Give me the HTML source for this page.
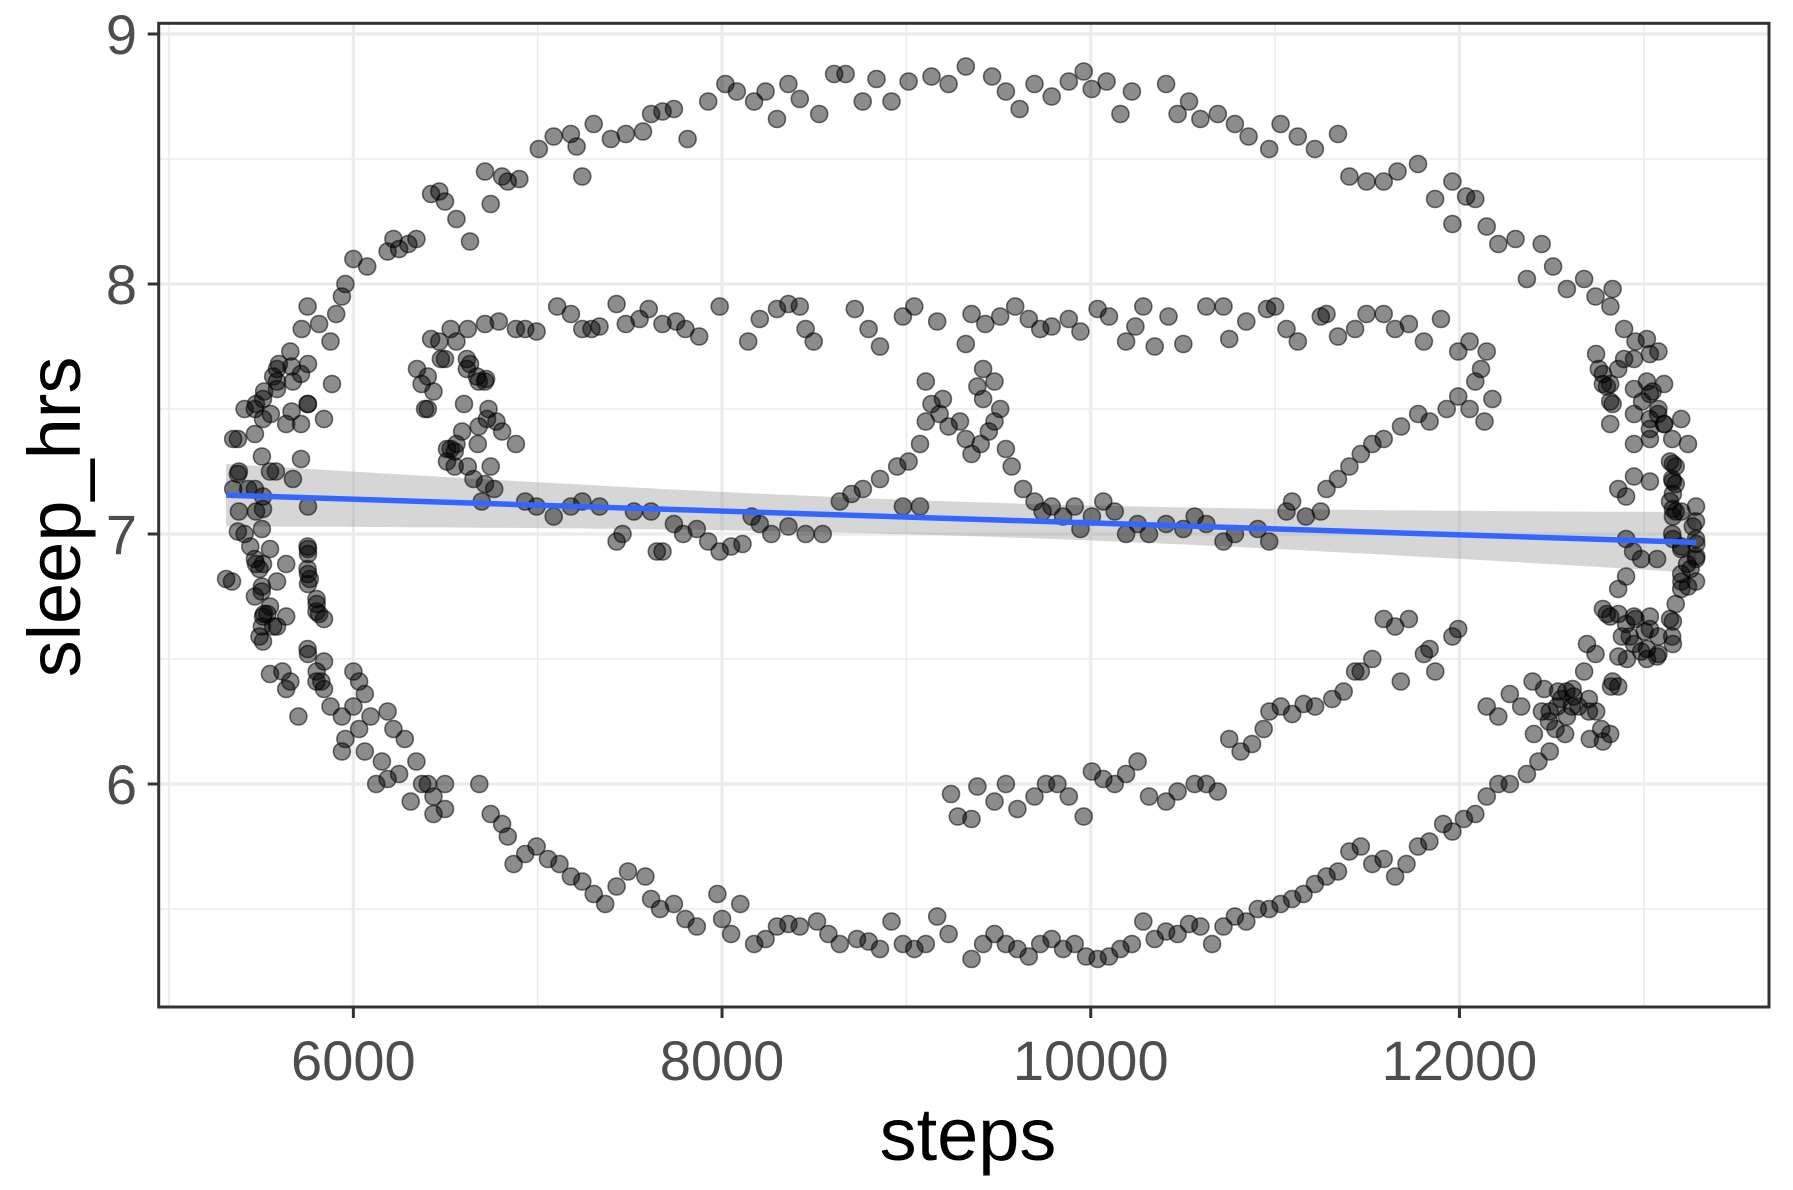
<!DOCTYPE html>
<html><head><meta charset="utf-8"><style>
html,body{margin:0;padding:0;background:#fff;}
svg{display:block;font-family:"Liberation Sans",Arial,sans-serif;}
</style></head><body>
<svg id="chart" width="1793" height="1190" viewBox="0 0 1793 1190" xmlns="http://www.w3.org/2000/svg">
<rect x="0" y="0" width="1793" height="1190" fill="#fff"/>
<g id="grid"></g>
<g id="band"></g>
<g id="points"></g>
<g id="fit"></g>
<rect x="158.7" y="23.3" width="1610.3" height="983.7" fill="none" stroke="#333" stroke-width="3"/>
<g id="axes"></g>
<text x="968" y="1160" font-size="74" text-anchor="middle" fill="#000">steps</text>
<text x="0" y="0" font-size="74" text-anchor="middle" fill="#000" transform="translate(80,517) rotate(-90)">sleep_hrs</text>
</svg>
<script>
const xTicks = [6000, 8000, 10000, 12000];
const xMinor = [5000, 7000, 9000, 11000, 13000];
const yTicks = [6, 7, 8, 9];
const yMinor = [5.5, 6.5, 7.5, 8.5];
const steps = [5957,6000,6075,6217,6248,6186,6298,6342,6422,6497,6466,6559,6633,6714,6745,6807,6838,6900,7006,7087,7180,7211,7242,7304,7397,7478,7571,7615,7677,7739,7813,7925,8018,8080,8174,8236,8298,8360,8422,8527,8608,8670,8763,8838,8919,9012,9136,9229,9322,9465,9540,9614,9695,9788,9881,9962,10005,10086,10161,10223,10409,10471,10533,10595,10689,10782,10856,10968,11030,11123,11216,11341,11403,11496,11589,11664,11775,11868,11962,12036,12086,11962,12148,12211,12304,12366,12446,12508,12583,12676,12738,12831,12819,12893,12955,13017,13079,12756,12800,12831,12893,13017,13048,13079,13110,13154,13173,13173,13142,13204,13266,13285,13285,13254,13204,13173,13142,13079,13017,12955,12881,12862,12831,12769,12707,12645,12583,12521,12490,12428,12366,12273,12211,12148,12086,12024,11962,11912,11837,11775,11713,11651,11589,11527,11465,11403,11341,11279,11216,11154,11092,11030,10968,10906,10844,10782,10720,10658,10595,10533,10471,10409,10347,10285,10223,10161,10099,10037,9975,9913,9850,9788,9726,9664,9602,9540,9478,9416,9353,9229,9167,9105,9043,8981,8919,8857,8795,8732,8639,8577,8515,8422,8360,8298,8236,8174,8099,8049,7975,8000,7863,7801,7739,7664,7615,7584,7490,7428,7366,7304,7242,7180,7118,7056,6994,6932,6869,6838,6807,6745,6683,6497,6435,6373,6311,6248,6186,6155,6124,6062,6031,6000,5957,5938,5876,5826,5801,5752,5702,5658,5615,5565,5534,5503,5472,5441,5410,5379,5348,5379,5348,5410,5472,5516,5565,5596,5658,5720,5752,5814,5876,5907,5938,5491,5516,5491,5752,5752,5764,5801,5814,5665,5752,5665,5429,5472,5310,13142,13154,13173,13154,13204,13235,
6422,6466,6528,6559,6621,6714,6789,6882,6932,6994,7106,7180,7242,7292,7335,7428,7478,7553,7602,7677,7751,7801,7876,7987,8142,8205,8298,8360,8422,8453,8497,8720,8795,8857,8981,9043,9167,9322,9353,9428,9509,9590,9664,9726,9788,9881,9944,10037,10099,10192,10242,10285,10347,10422,10502,10627,10720,10751,10844,10956,11000,11062,11123,11248,11279,11341,11434,11496,11589,11651,11726,11807,11900,
6404,6435,6404,6497,6528,6559,6590,6633,6671,6714,6733,6776,6807,6882,6652,6714,6764,6621,6696,6745,
6932,6994,7087,7180,7242,7335,7428,7460,7522,7615,7646,7677,7739,7789,7863,7925,7987,8049,8111,8161,8205,8267,8360,8453,8546,8639,8702,8764,8857,8950,9012,9074,9105,9136,9180,9229,9291,9322,9353,9403,9447,9478,9416,9385,9416,9478,9509,9540,9571,9633,9695,9739,9788,9850,9913,9944,10006,10068,10130,10192,10254,10316,10409,10502,10564,10627,10720,10782,10906,10968,11062,11092,11167,11248,11279,11341,11403,11465,11527,11589,11683,11776,11838,11931,11993,12055,12086,12179,12117,12148,12055,11993,12136,9105,9198,8981,9074,
9242,9279,9353,9385,9478,9540,9602,9695,9757,9819,9881,9962,10006,10068,10130,10192,10254,10316,10409,10471,10564,10627,10689,10751,10813,10875,10938,10969,11031,11093,11155,11217,11310,11372,11434,11465,11527,11589,11651,11726,11807,11838,11869,11962,11993,11682,
12148,12211,12273,12335,12397,12459,12490,12552,12614,12676,12738,12800,12862,12924,13005,13017,13079,13154,
5938,6000,6031,6062,6093,6186,6217,6279,6342,6404,6497,6435,
5374,5374,5374,5342,5466,5504,5466,5510,5510,5504,5548,5580,5672,5716,5754,5548,5466,5510,5636,5504,5466,5586,5548,5510,5636,5504,5586,5510,5754,5754,5754,5754,5800,5800,5841,5754,5841,5548,5636,5800,5841,
5586,5586,5586,5672,5716,5754,5466,5510,5552,5510,5636,5716,5754,5841,5884,
6345,6370,6475,6389,6600,6616,6616,6680,6720,6725,6680,6675,6508,6550,6508,6550,
12741,12947,13033,12778,12861,12778,12818,12947,13033,13110,12991,12818,12947,13033,13077,13110,13203,13033,12818,12947,13033,13240,13158,12947,13033,12861,12904,13158,13158,13158,13158,13283,13283,13283,13158,13203,12904,12942,12986,13072,13283,13203,13283,13240,13203,12904,12861,12778,12818,12947,13033,12904,13033,13158,12692,12947,12986,12909,13072,13158,12822,12861,12535,12580,12620,12702,12447,12530,12610,12702,12742,12485,12404,12573,12778,12818];
const sleepHrs = [8.00,8.10,8.07,8.18,8.14,8.13,8.16,8.18,8.36,8.33,8.37,8.26,8.17,8.45,8.32,8.43,8.41,8.42,8.54,8.59,8.60,8.55,8.43,8.64,8.58,8.60,8.61,8.68,8.69,8.70,8.58,8.73,8.80,8.77,8.73,8.77,8.66,8.80,8.74,8.68,8.84,8.84,8.73,8.82,8.73,8.81,8.83,8.80,8.87,8.83,8.77,8.70,8.80,8.75,8.81,8.85,8.78,8.81,8.68,8.77,8.80,8.68,8.73,8.66,8.68,8.64,8.59,8.54,8.64,8.59,8.54,8.60,8.43,8.41,8.41,8.45,8.48,8.34,8.41,8.35,8.34,8.24,8.23,8.16,8.18,8.02,8.16,8.07,7.98,8.02,7.95,7.98,7.91,7.82,7.77,7.78,7.73,7.66,7.59,7.52,7.70,7.61,7.57,7.50,7.44,7.38,7.27,7.20,7.13,7.09,7.03,6.96,6.91,6.86,6.81,6.72,6.66,6.59,6.54,6.66,6.59,6.51,6.41,6.22,6.18,6.31,6.27,6.22,6.13,6.09,6.04,6.00,6.00,5.95,5.88,5.86,5.81,5.84,5.77,5.75,5.68,5.63,5.70,5.68,5.75,5.73,5.65,5.63,5.60,5.56,5.54,5.52,5.50,5.50,5.45,5.47,5.43,5.36,5.43,5.44,5.40,5.41,5.38,5.45,5.36,5.34,5.31,5.30,5.31,5.36,5.34,5.38,5.36,5.31,5.34,5.36,5.40,5.36,5.30,5.40,5.47,5.36,5.34,5.36,5.45,5.34,5.37,5.38,5.36,5.40,5.45,5.43,5.44,5.43,5.38,5.36,5.52,5.40,5.56,5.46,5.43,5.46,5.52,5.50,5.54,5.63,5.65,5.59,5.52,5.56,5.61,5.63,5.68,5.70,5.75,5.72,5.68,5.79,5.84,5.88,6.00,6.00,5.95,6.00,5.93,6.04,6.02,6.09,6.00,6.13,6.22,6.31,6.18,6.13,6.31,6.41,6.45,6.54,6.27,6.41,6.45,6.63,6.68,6.77,6.88,6.95,7.00,7.09,7.18,7.25,7.38,7.50,7.52,7.57,7.63,7.68,7.73,7.82,7.91,7.84,7.77,7.88,7.95,6.86,6.68,6.59,6.95,6.86,6.82,6.72,6.68,7.49,7.52,7.67,7.18,7.09,6.82,7.29,7.22,7.09,7.00,6.95,6.88,
7.78,7.77,7.82,7.77,7.82,7.84,7.85,7.82,7.82,7.81,7.91,7.88,7.82,7.82,7.83,7.92,7.84,7.86,7.90,7.84,7.85,7.82,7.79,7.91,7.77,7.86,7.90,7.92,7.91,7.82,7.77,7.90,7.82,7.75,7.87,7.91,7.85,7.76,7.88,7.84,7.87,7.91,7.86,7.82,7.83,7.86,7.81,7.90,7.87,7.77,7.83,7.91,7.75,7.87,7.76,7.91,7.91,7.78,7.85,7.90,7.91,7.82,7.77,7.87,7.88,7.79,7.82,7.88,7.88,7.82,7.84,7.77,7.86,
7.63,7.57,7.50,7.70,7.34,7.36,7.41,7.68,7.63,7.61,7.50,7.45,7.41,7.36,7.22,7.20,7.18,7.27,7.13,7.27,
7.13,7.11,7.07,7.11,7.13,7.11,6.97,7.00,7.09,7.09,6.93,6.93,7.04,7.00,7.02,6.97,6.93,6.95,6.96,7.07,7.04,7.00,7.03,7.00,7.00,7.13,7.16,7.18,7.22,7.27,7.29,7.36,7.45,7.52,7.48,7.43,7.45,7.38,7.32,7.36,7.41,7.45,7.54,7.59,7.66,7.61,7.50,7.34,7.27,7.18,7.13,7.09,7.11,7.07,7.11,7.02,7.07,7.13,7.09,7.00,7.04,7.00,7.04,7.02,7.07,7.04,6.97,7.00,7.02,6.97,7.09,7.13,7.07,7.09,7.18,7.22,7.27,7.32,7.36,7.38,7.43,7.48,7.45,7.50,7.55,7.50,7.61,7.54,7.66,7.73,7.77,7.73,7.45,7.61,7.54,7.11,7.11,
5.96,5.87,5.86,5.99,5.93,6.00,5.90,5.95,6.00,6.00,5.95,5.87,6.05,6.02,6.00,6.04,6.09,5.95,5.93,5.97,6.00,6.00,5.97,6.18,6.13,6.16,6.22,6.29,6.31,6.28,6.32,6.31,6.34,6.37,6.45,6.45,6.50,6.66,6.63,6.66,6.52,6.54,6.45,6.59,6.62,6.41,
6.31,6.27,6.36,6.31,6.41,6.38,6.29,6.34,6.38,6.45,6.52,6.68,6.68,6.59,6.61,6.50,6.52,6.59,
6.27,6.45,6.41,6.36,6.27,6.29,6.22,6.18,6.09,6.00,5.90,5.88,
7.38,7.24,7.01,6.81,7.40,7.31,7.18,7.15,7.10,7.02,7.25,7.25,7.22,7.30,7.11,6.94,6.90,6.88,6.88,6.79,6.75,6.81,6.71,6.67,6.67,6.63,6.63,6.57,6.94,6.92,6.84,6.80,6.74,6.69,6.66,6.52,6.49,6.44,6.38,6.41,6.38,
7.66,7.61,7.58,7.61,7.64,7.68,7.50,7.54,7.48,7.46,7.44,7.44,7.52,7.46,7.60,
7.66,7.60,7.70,7.50,7.52,7.70,7.66,7.61,7.62,7.46,7.43,7.36,7.34,7.33,7.29,7.27,
7.72,7.70,7.72,7.64,7.66,7.60,7.60,7.58,7.56,7.60,7.53,7.53,7.48,7.46,7.48,7.44,7.46,7.42,7.44,7.36,7.38,7.36,7.28,7.23,7.21,7.18,7.15,7.21,7.16,7.10,7.07,7.11,7.05,6.98,6.98,6.94,6.98,6.93,6.90,6.90,6.90,6.84,6.81,6.79,6.78,6.83,6.78,6.70,6.67,6.67,6.67,6.64,6.62,6.65,6.56,6.56,6.53,6.50,6.51,6.56,6.39,6.39,6.37,6.37,6.35,6.34,6.29,6.31,6.31,6.29,6.29,6.25,6.20,6.20,6.17,6.20];

const NS = 'http://www.w3.org/2000/svg';
const PL = 158.7, PR = 1769, PT = 23.3, PB = 1007;
function xs(v){ return 169 + (v - 5000) * 0.18435; }
function ys(v){ return 34 + (9 - v) * 250; }
function mk(tag, attrs, parent){
  const e = document.createElementNS(NS, tag);
  for (const k in attrs) e.setAttribute(k, attrs[k]);
  parent.appendChild(e);
  return e;
}
const grid = document.getElementById('grid');
xMinor.forEach(v => {
  const l = mk('line', {x1: xs(v), x2: xs(v), y1: PT, y2: PB, stroke: '#ebebeb', 'stroke-width': 1.6}, grid);
  
  
});
yMinor.forEach(v => {
  const l = mk('line', {x1: PL, x2: PR, y1: ys(v), y2: ys(v), stroke: '#ebebeb', 'stroke-width': 1.6}, grid);
  
  
});
xTicks.forEach(v => {
  const l = mk('line', {x1: xs(v), x2: xs(v), y1: PT, y2: PB, stroke: '#ebebeb', 'stroke-width': 3.2}, grid);
  
  
});
yTicks.forEach(v => {
  const l = mk('line', {x1: PL, x2: PR, y1: ys(v), y2: ys(v), stroke: '#ebebeb', 'stroke-width': 3.2}, grid);
  
  
});

const n = steps.length;
let mx = 0, my = 0;
for (let i = 0; i < n; i++){ mx += steps[i]; my += sleepHrs[i]; }
mx /= n; my /= n;
let sxx = 0, sxy = 0;
for (let i = 0; i < n; i++){ sxx += (steps[i]-mx)**2; sxy += (steps[i]-mx)*(sleepHrs[i]-my); }
const slope = sxy / sxx, icpt = my - slope * mx;
let sse = 0;
for (let i = 0; i < n; i++){ sse += (sleepHrs[i] - icpt - slope*steps[i])**2; }
const s = Math.sqrt(sse / (n - 2));
let xmin = Math.min(...steps), xmax = Math.max(...steps);
const up = [], lo = [];
for (let k = 0; k <= 80; k++){
  const xv = xmin + (xmax - xmin) * k / 80;
  const yv = icpt + slope * xv;
  const se = 1.96 * s * Math.sqrt(1/n + (xv-mx)**2/sxx);
  up.push(xs(xv).toFixed(1) + ',' + ys(yv+se).toFixed(1));
  lo.unshift(xs(xv).toFixed(1) + ',' + ys(yv-se).toFixed(1));
}
const bandPoly = mk('polygon', {points: up.concat(lo).join(' '), fill: '#999', 'fill-opacity': 0.4}, document.getElementById('band'));



const pts = document.getElementById('points');
for (let i = 0; i < n; i++){
  const c = mk('circle', {cx: xs(steps[i]).toFixed(1), cy: ys(sleepHrs[i]).toFixed(1), r: 8.5, fill: 'rgba(0,0,0,0.45)', stroke: 'rgba(0,0,0,0.55)', 'stroke-width': 1.6}, pts);
  
  
}
const fl = mk('line', {x1: xs(xmin), y1: ys(icpt + slope*xmin), x2: xs(xmax), y2: ys(icpt + slope*xmax), stroke: '#3366FF', 'stroke-width': 5.5}, document.getElementById('fit'));



const axes = document.getElementById('axes');
xTicks.forEach(v => {
  const t = mk('line', {x1: xs(v), x2: xs(v), y1: PB, y2: PB + 11, stroke: '#333', 'stroke-width': 3}, axes);
  
  
  const tx = mk('text', {x: xs(v), y: 1080, 'font-size': 56, 'text-anchor': 'middle', fill: '#4d4d4d'}, axes);
  tx.textContent = String(v);
  
  
});
yTicks.forEach(v => {
  const t = mk('line', {x1: PL - 11, x2: PL, y1: ys(v), y2: ys(v), stroke: '#333', 'stroke-width': 3}, axes);
  
  
  const tx = mk('text', {x: 137, y: ys(v) + 20, 'font-size': 56, 'text-anchor': 'end', fill: '#4d4d4d'}, axes);
  tx.textContent = String(v);
  
  
});
</script>
</body></html>
